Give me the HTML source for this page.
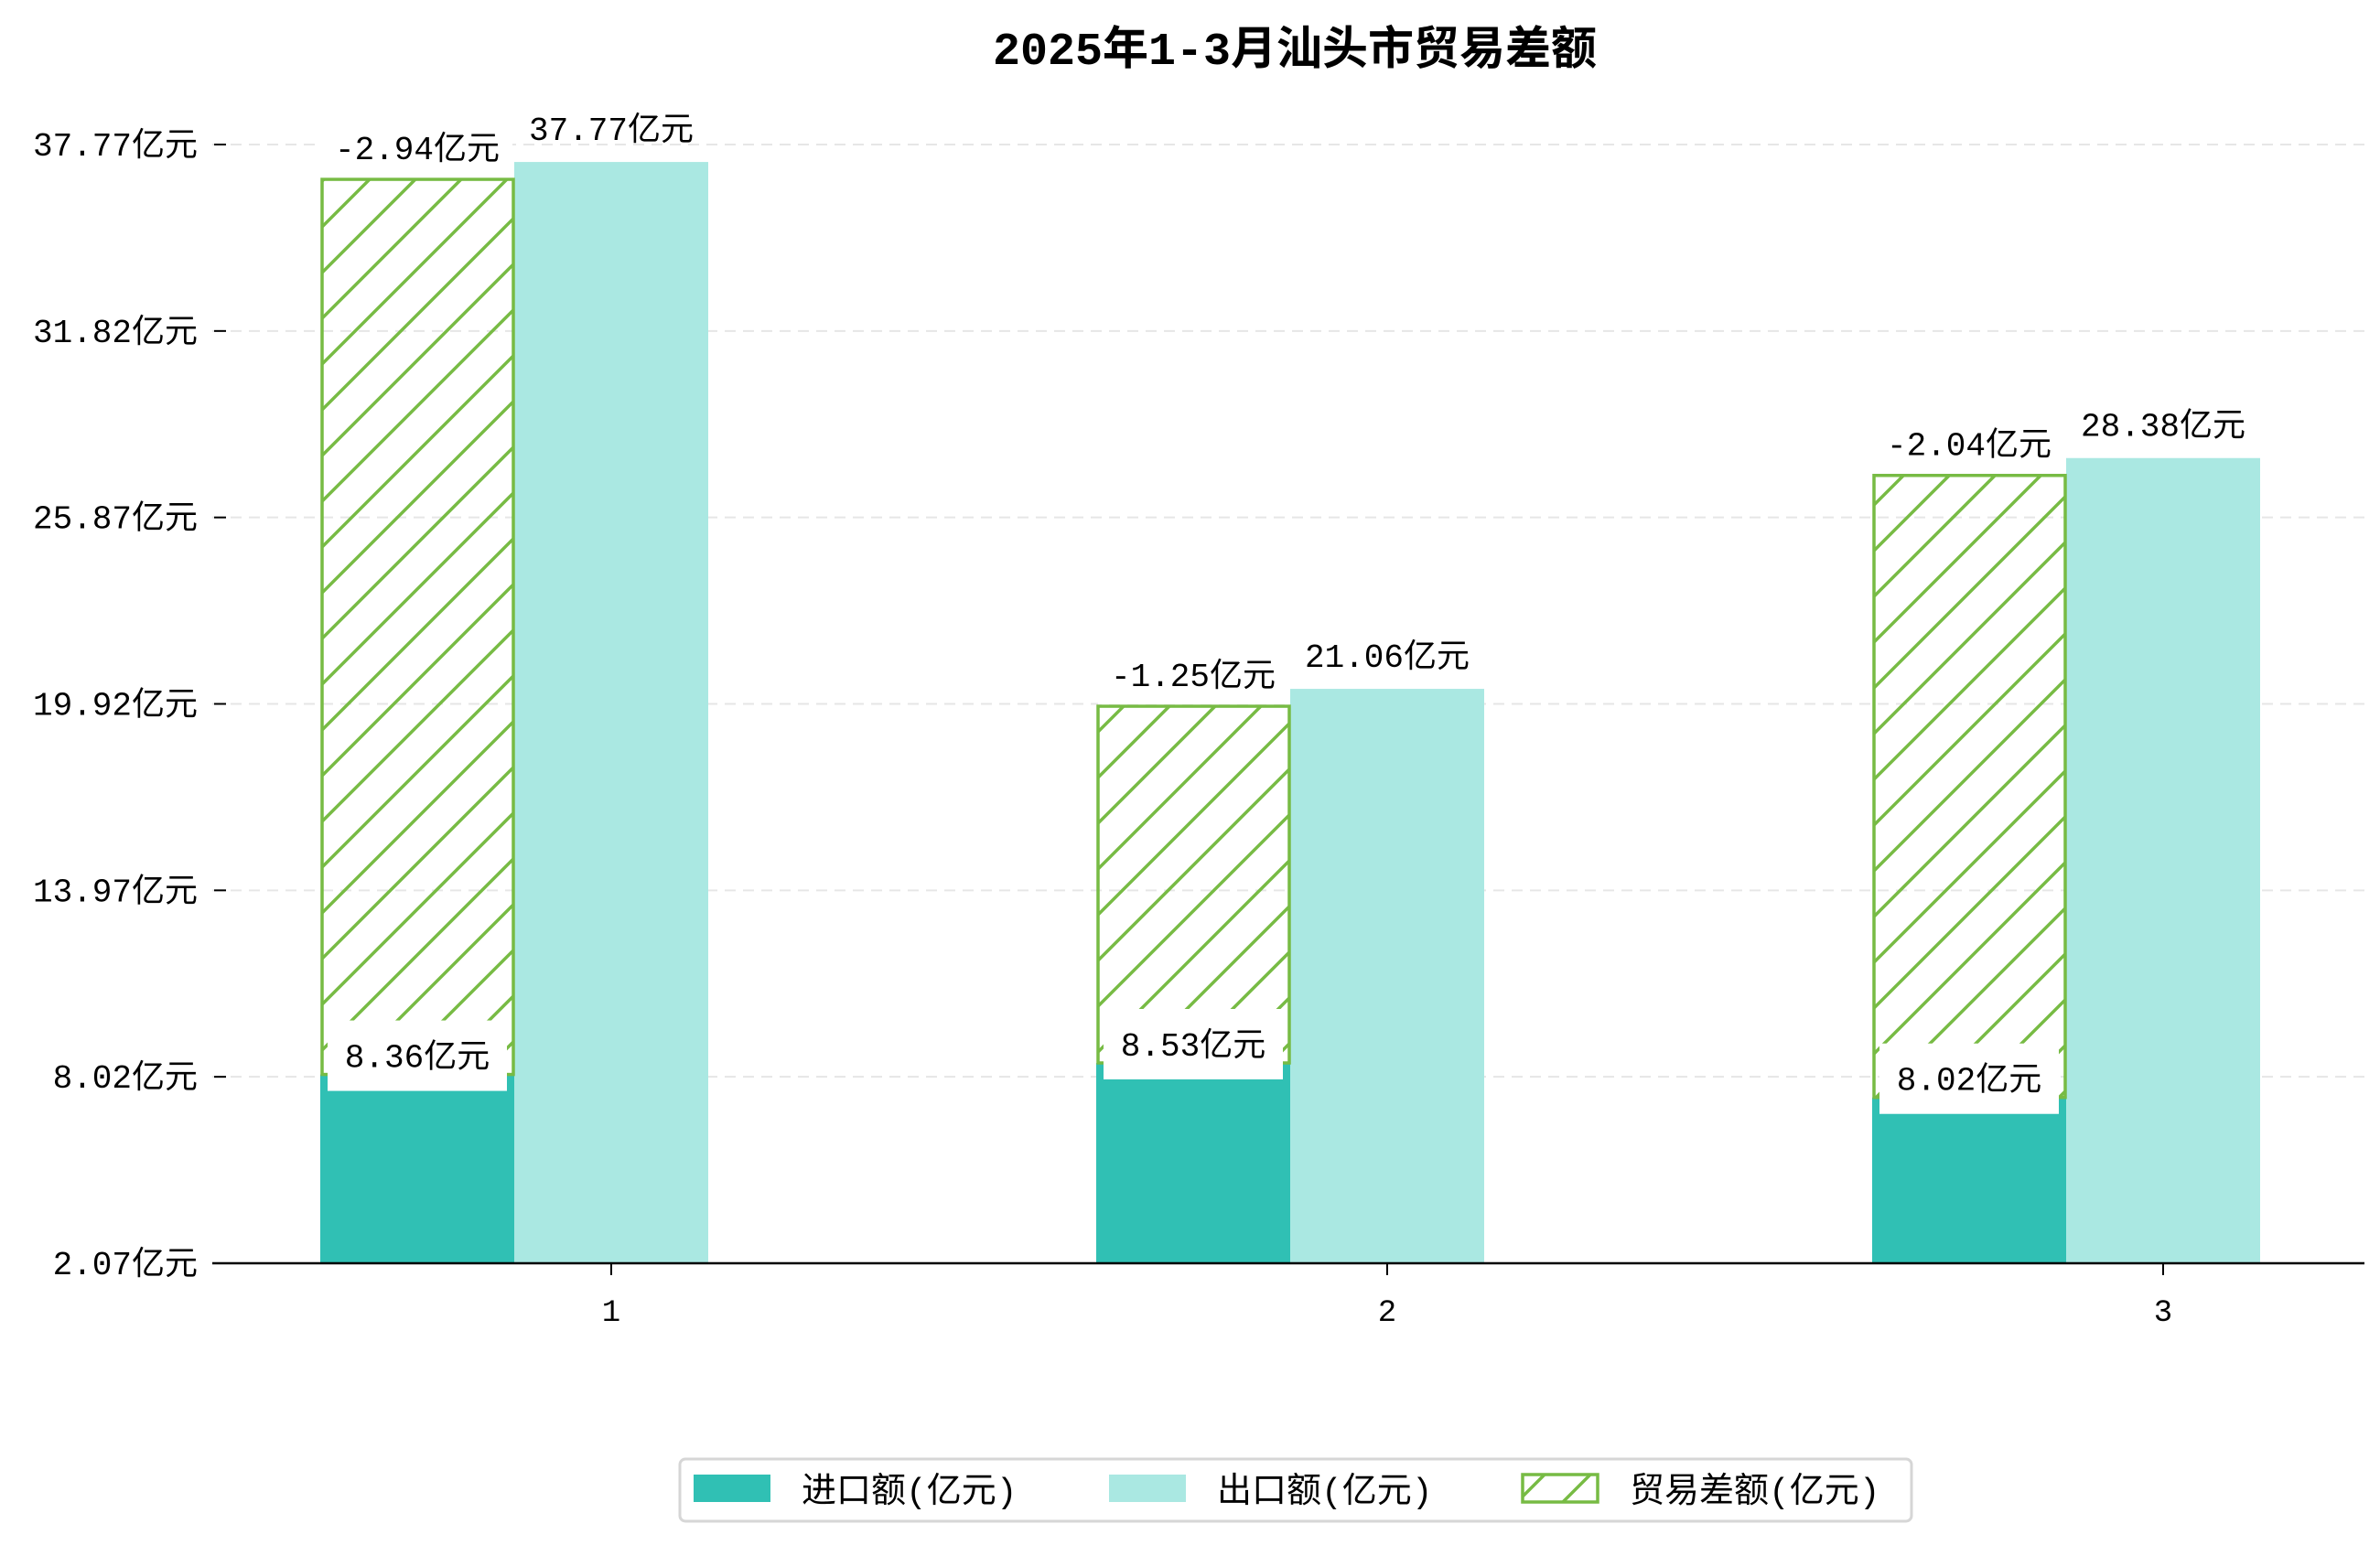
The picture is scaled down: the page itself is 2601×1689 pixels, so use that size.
<!DOCTYPE html>
<html><head><meta charset="utf-8"><style>
html,body{margin:0;padding:0;background:#fff}
svg{display:block}
text{font-family:"Liberation Mono","Noto Sans CJK SC",monospace}
</style></head><body>
<svg id="chart" width="2601" height="1689" viewBox="0 0 2601 1689" xmlns="http://www.w3.org/2000/svg">
<defs>
<pattern id="hatch" patternUnits="userSpaceOnUse" width="50" height="50">
<path d="M-10,60 L60,-10 M-10,10 L10,-10 M40,60 L60,40" stroke="#77bb44" stroke-width="3.5"/>
</pattern>
</defs>
<text x="1415" y="70" font-size="50" font-weight="bold" text-anchor="middle" fill="#000">2025年1-3月汕头市贸易差额</text>
<g id="grid"></g>
<g id="bars"></g>
<g id="labels"></g>
<g id="axes"></g>
<g>
<rect x="743" y="1595" width="1346" height="68" rx="6" fill="#fff" stroke="#d6d6d6" stroke-width="3"/>
<rect x="758" y="1612" width="84" height="30" fill="#30c0b4"/>
<text x="876" y="1642" font-size="38">进口额(亿元)</text>
<rect x="1212" y="1612" width="84" height="30" fill="#aae8e2"/>
<text x="1330" y="1642" font-size="38">出口额(亿元)</text>
<rect x="1664" y="1612" width="82" height="30" fill="url(#hatch)" stroke="#77bb44" stroke-width="3.5"/>
<text x="1781" y="1642" font-size="38">贸易差额(亿元)</text>
</g>
</svg>
<script>
const categories = ['1','2','3'];
const importValues = [8.36, 8.53, 8.02];
const exportValues = [37.77, 21.06, 28.38];
const gapValues = [-2.94, -1.25, -2.04];
const yTickLabels = ['2.07亿元','8.02亿元','13.97亿元','19.92亿元','25.87亿元','31.82亿元','37.77亿元'];

const NS='http://www.w3.org/2000/svg';
const axisY=1381, axisTop=158, left=232, right=2584;
function yScale(v){ return 1479 - v*34.47; }
function yImport(v){ return 1162 + (8.53 - v)*74; }
function xCenter(i){ return 668 + i*848; }
function mk(tag, attrs, parent){ const e=document.createElementNS(NS,tag); for(const k in attrs) e.setAttribute(k,attrs[k]); parent.appendChild(e); return e; }

const grid=document.getElementById('grid'), bars=document.getElementById('bars'), labels=document.getElementById('labels'), axes=document.getElementById('axes');
const step=(axisY-axisTop)/(yTickLabels.length-1);
yTickLabels.forEach((t,i)=>{
  const y=axisY-i*step;
  if(i>0){ const g=mk('line',{x1:left,x2:right,y1:y,y2:y,stroke:'#e6e6e6','stroke-width':2,'stroke-dasharray':'12,8'},grid);
  
   }
  const tk=mk('line',{x1:234,x2:247,y1:y,y2:y,stroke:'#000','stroke-width':2},axes);
  
  
  const tx=mk('text',{x:216,y:y+12,'font-size':36,'text-anchor':'end'},axes);
  
  
  tx.textContent=t;
});
const base=mk('line',{x1:left,x2:right,y1:axisY,y2:axisY,stroke:'#000','stroke-width':2.5},axes);



categories.forEach((c,i)=>{
  const g=xCenter(i);
  const iTop=yImport(importValues[i]);
  const eTop=yScale(exportValues[i]);
  const hTop=eTop+19;
  const ib=mk('rect',{x:g-318,y:iTop,width:212,height:axisY-iTop,fill:'#30c0b4'},bars);
  
  
  const eb=mk('rect',{x:g-106,y:eTop,width:212,height:axisY-eTop,fill:'#aae8e2'},bars);
  
  
  const hb=mk('rect',{x:g-316,y:hTop,width:209,height:iTop-hTop,fill:'url(#hatch)',stroke:'#77bb44','stroke-width':3.5},bars);
  
  
  const hc=g-212;
  const hbg=mk('rect',{x:hc-104,y:hTop-52,width:208,height:50,fill:'#fff'},labels);
  
  
  const ht=mk('text',{x:hc,y:hTop-22,'font-size':36,'text-anchor':'middle'},labels);
  
  
  ht.textContent=gapValues[i].toFixed(2)+'亿元';
  const et=mk('text',{x:g,y:eTop-24,'font-size':36,'text-anchor':'middle'},labels);
  
  
  et.textContent=exportValues[i].toFixed(2)+'亿元';
  const ibg=mk('rect',{x:g-310,y:iTop-59,width:196,height:77,fill:'#fff'},labels);
  
  
  const it=mk('text',{x:hc,y:iTop-8,'font-size':36,'text-anchor':'middle'},labels);
  
  
  it.textContent=importValues[i].toFixed(2)+'亿元';
  const xt=mk('line',{x1:g,x2:g,y1:axisY,y2:axisY+13,stroke:'#000','stroke-width':2},axes);
  
  
  const xl=mk('text',{x:g,y:1444,'font-size':34,'text-anchor':'middle'},axes);
  
  
  xl.textContent=c;
});
</script>
</body></html>
